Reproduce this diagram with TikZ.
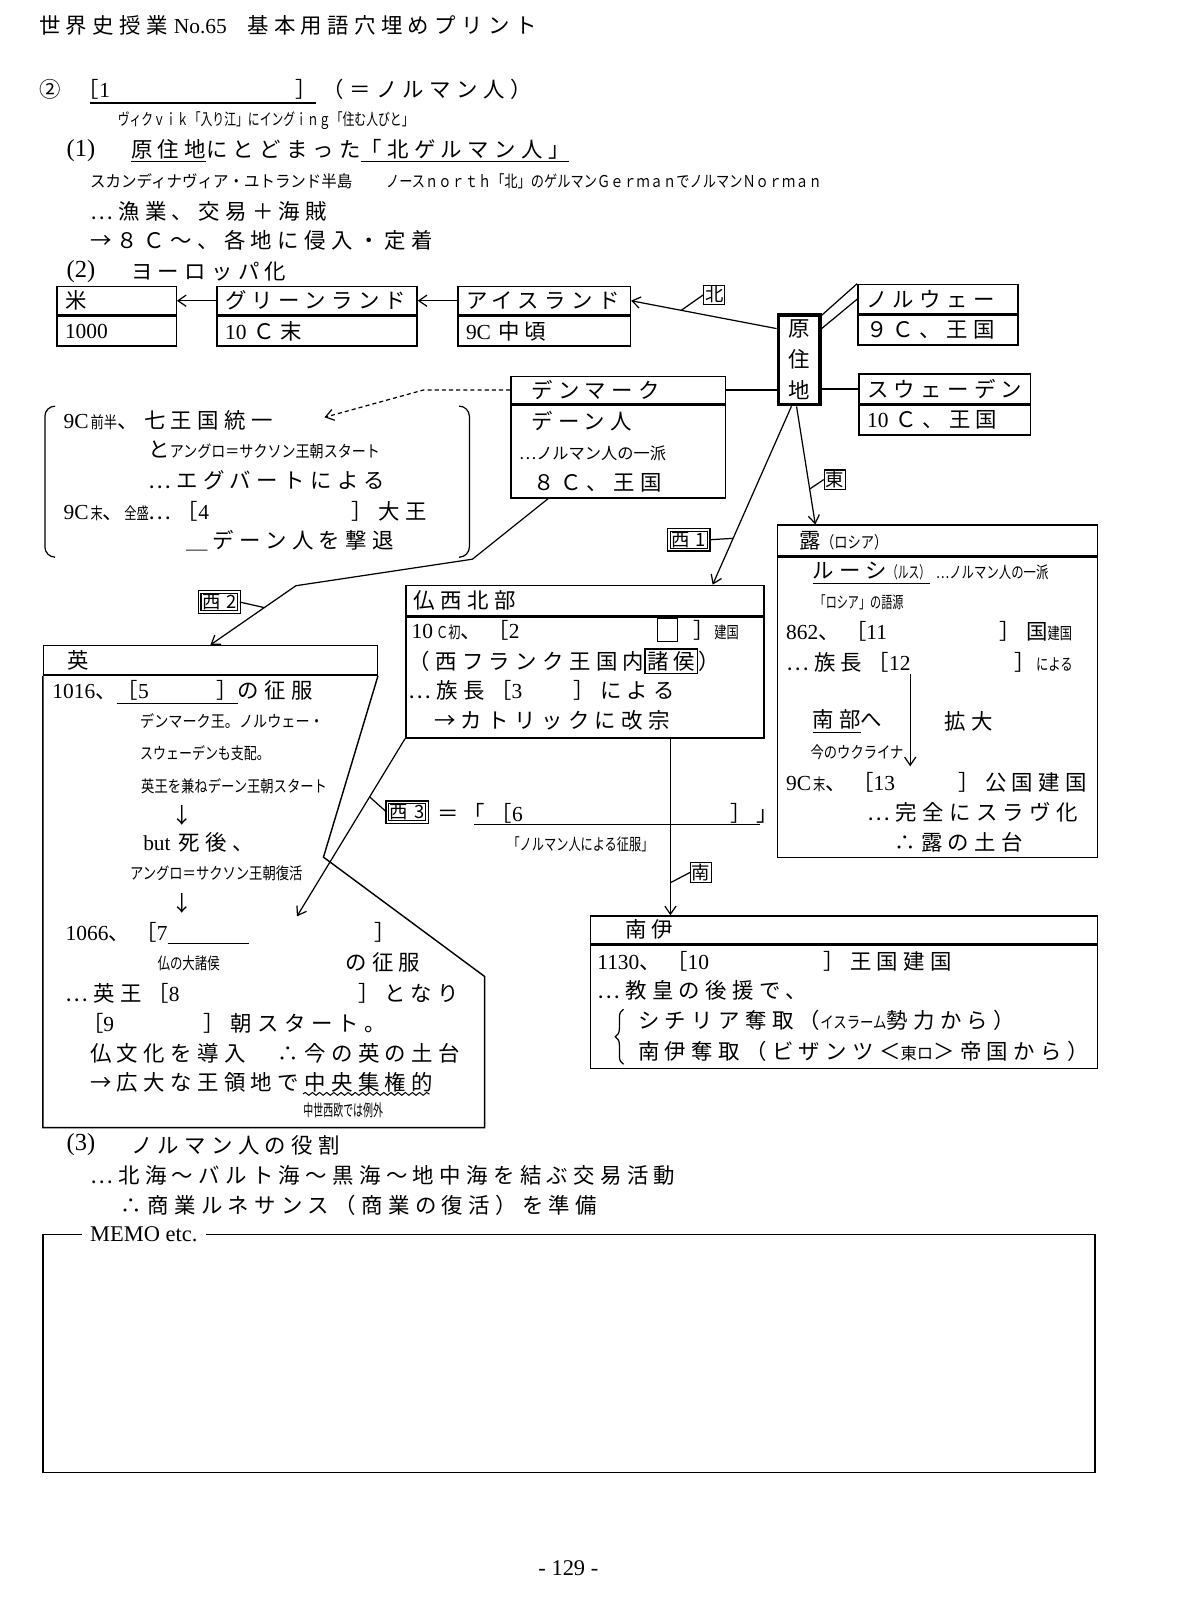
\documentclass[tikz,border=0pt]{standalone}
\usepackage{fontspec}
\usepackage{graphicx}
\usepackage{tikz}
\usetikzlibrary{arrows.meta,positioning,calc,decorations.pathreplacing,decorations.pathmorphing}

\setmainfont{Noto Sans CJK JP}[LetterSpace=25]
\newfontfamily\jpt{Noto Sans CJK JP}
\newfontfamily\rmn{Liberation Serif}
\setlength{\fboxsep}{0.8pt}
\setlength{\fboxrule}{0.6pt}

% small squeezed notes, fitted to a width
\newcommand\sqz[2]{{\jpt\fontsize{8}{9}\selectfont\resizebox{#1}{\height}{#2}}}

\begin{document}
\begin{tikzpicture}[
  x=0.5pt, y=-0.5pt,
  font=\fontsize{10.5}{14.8}\selectfont,
  ln/.style={anchor=west, inner sep=0pt},
  cell/.style={draw, line width=0.7pt, anchor=north west, inner xsep=4pt, inner ysep=0pt, align=left},
  lab/.style={draw, line width=0.6pt, inner sep=0.6pt, font=\jpt\fontsize{9}{10}\selectfont},
  dlab/.style={draw, double, double distance=0.8pt, line width=0.55pt, inner xsep=1.2pt, inner ysep=1pt, font=\jpt\fontsize{9}{10}\selectfont},
  arr/.style={-{Straight Barb[length=4pt,width=5.5pt]}, line width=0.6pt},
  conn/.style={line width=0.6pt}
]
\useasboundingbox (0,0) rectangle (1176,1568);

% heading
\node[ln] (title) at (38,25) {世界史授業\hspace{3pt}{\rmn No.65}\hspace{10pt}基本用語穴埋めプリント};
\node[ln] (circ) at (38,88) {②};
\node[ln] (blank1) at (76,88) {［{\rmn 1}\hspace*{91pt}］（＝ノルマン人）};
\draw[conn] (88,101) -- (310,101);
\node[ln] (etym) at (115,118) {\sqz{145pt}{ヴィクｖｉｋ「入り江」にイングｉｎｇ「住む人びと」}};
\node[ln] (s1) at (65,148) {{\rmn\fontsize{12}{12}\selectfont (1)}};
\node[ln] (s1t) at (128,148) {\underline{原住地}にとどまった\underline{「北ゲルマン人」}};
\node[ln] (scan) at (88,178) {\sqz{128.5pt}{スカンディナヴィア・ユトランド半島}};
\node[ln] (north) at (378,178) {\sqz{213.5pt}{ノースｎｏｒｔｈ「北」のゲルマンＧｅｒｍａｎでノルマンＮｏｒｍａｎ}};
\node[ln] (fish) at (88,207) {⋯漁業、交易＋海賊};
\node[ln] (inv) at (88,236) {→８Ｃ～、各地に侵入・定着};
\node[ln] (s2) at (65,266) {{\rmn\fontsize{12}{12}\selectfont (2)}};
\node[ln] (s2t) at (128,266) {ヨーロッパ化};

% (2) boxes
\node[cell, text width=50.5pt, minimum height=14pt] (us) at (55,280) {米};
\node[cell, text width=50.5pt, minimum height=14.5pt, below=0pt of us] (usb) {{\rmn 1000}};
\node[cell, text width=90pt, minimum height=14pt] (gl) at (212,280) {グリーンランド};
\node[cell, text width=90pt, minimum height=14.5pt, below=0pt of gl] (glb) {{\rmn 10} Ｃ末};
\node[cell, text width=76.5pt, minimum height=14pt] (is) at (448,280) {アイスランド};
\node[cell, text width=76.5pt, minimum height=14.5pt, below=0pt of is] (isb) {{\rmn 9C} 中頃};
\node[draw, line width=1.6pt, minimum width=20.5pt, minimum height=44pt, inner sep=0pt, align=center, anchor=north west, font=\jpt\fontsize{10.5}{15}\selectfont] (gen) at (761,307) {原\\住\\地};
\node[cell, text width=70.5pt, minimum height=14.5pt] (nw) at (840,278) {ノルウェー};
\node[cell, text width=70.5pt, minimum height=14.5pt, below=0pt of nw] (nwb) {９Ｃ、王国};
\node[cell, text width=76pt, minimum height=14.5pt] (sw) at (841,366) {スウェーデン};
\node[cell, text width=76pt, minimum height=14.5pt, below=0pt of sw] (swb) {{\rmn 10} Ｃ、王国};
\node[cell, text width=97pt, minimum height=13.5pt] (dm) at (500,368) {\hspace*{6pt}デンマーク};
\node[cell, text width=97pt, minimum height=45.5pt, below=0pt of dm, font=\fontsize{10.5}{15}\selectfont] (dmb) {\hspace*{6pt}デーン人\\\sqz{72pt}{⋯ノルマン人の一派}\\\hspace*{7pt}８Ｃ、王国};

% bracket box
\draw[conn, rounded corners=5pt] (53,398) -- (44,398) -- (44,546) -- (53,546);
\draw[conn, rounded corners=5pt] (451,398) -- (460,398) -- (460,546) -- (451,546);
\node[ln] (b1) at (62,412) {{\rmn 9C}\hspace{1pt}\sqz{13pt}{前半}、七王国統一};
\node[ln] (b2) at (145,441) {と\sqz{103pt}{アングロ＝サクソン王朝スタート}};
\node[ln] (b3) at (145,471) {⋯エグバートによる};
\node[ln] (b4) at (62,501) {{\rmn 9C}\hspace{1pt}\sqz{6pt}{末}、\sqz{12pt}{全盛}⋯［{\rmn 4}\hspace*{70pt}］大王};
\node[ln] (b5) at (182,530) {＿デーン人を撃退};

% england
\node[cell, text width=155.5pt, minimum height=14.5pt] (eng) at (42,632) {\hspace*{7.5pt}英};
\draw[line width=0.7pt] (eng.south west) -- (42,1105) -- (475,1105) -- (475,957) -- (317,840) -- (eng.south east);
\node[ln] (e1) at (51,679) {{\rmn 1016}、\underline{［{\rmn 5}\hspace*{33pt}］}の征服};
\node[ln] (e2) at (137,707) {\sqz{90pt}{デンマーク王。ノルウェー・}};
\node[ln] (e3) at (137,738) {\sqz{63.5pt}{スウェーデンも支配。}};
\node[ln] (e4) at (138,770) {\sqz{91pt}{英王を兼ねデーン王朝スタート}};
\node[ln] (e5) at (168,799) {↓};
\node[ln] (e6) at (140,826) {{\rmn but}\hspace{4pt}死後、};
\node[ln] (e7) at (127,856) {\sqz{84.5pt}{アングロ＝サクソン王朝復活}};
\node[ln] (e8) at (168,885) {↓};
\node[ln] (e9) at (64,915) {{\rmn 1066}、［{\rmn 7}\underline{\hspace*{40pt}}\hspace*{61.5pt}］};
\node[ln] (e10) at (154,944) {\sqz{30.5pt}{仏の大諸侯}};
\node[ln] (e11) at (338,943) {の征服};
\node[ln] (e12) at (64,973) {⋯英王［{\rmn 8}\hspace*{87.5pt}］となり};
\node[ln] (e13) at (80,1003) {［{\rmn 9}\hspace*{44pt}］朝スタート。};
\node[ln] (e14) at (88,1032) {仏文化を導入　∴今の英の土台};
\node[ln] (e15) at (88,1061) {→広大な王領地で中央集権的};
\draw[decorate, decoration={snake, amplitude=0.7pt, segment length=3.5pt}, line width=0.5pt] (297,1072) -- (421,1072);
\node[ln] (e16) at (297,1088) {\sqz{39pt}{中世西欧では例外}};

% france
\node[cell, text width=167.5pt, minimum height=15pt] (fr) at (397,573) {仏西北部};
\node[cell, text width=167.5pt, minimum height=59pt, below=0pt of fr] (frb) {};
\node[ln] (f1) at (403,618) {{\rmn 10}\hspace{1.5pt}\sqz{12pt}{Ｃ初}、［{\rmn 2}\hspace*{85pt}］\sqz{12pt}{建国}};
\draw[line width=0.6pt] (644,606) rectangle (664,629);
\node[ln] (f2) at (400,648) {（西フランク王国内\fbox{諸侯}）};
\node[ln] (f3) at (400,677) {⋯族長［{\rmn 3}\hspace*{25pt}］による};
\node[ln] (f4) at (425,706) {→カトリックに改宗};

% russia
\node[cell, text width=149pt, minimum height=15pt] (ru) at (761,514) {\hspace*{7pt}露\sqz{32.5pt}{（ロシア）}};
\node[cell, text width=149pt, minimum height=147pt, below=0pt of ru] (rub) {};
\node[ln] (r1) at (796,562) {\underline{ルーシ\sqz{21pt}{（ルス）}}\hspace{3pt}\sqz{55pt}{⋯ノルマン人の一派}};
\node[ln] (r2) at (798,590) {\sqz{43.5pt}{「ロシア」の語源}};
\node[ln] (r3) at (770,619) {{\rmn 862}、［{\rmn 11}\hspace*{55pt}］国\sqz{12pt}{建国}};
\node[ln] (r4) at (770,649) {⋯族長［{\rmn 12}\hspace*{51pt}］\sqz{18pt}{による}};
\coordinate (ex1) at (892,661);
\coordinate (ex2) at (892,751);
\draw[arr] (ex1) -- (ex2);
\node[ln] (r5) at (796,707) {\underline{南部}へ};
\node[ln] (r6) at (925,707) {拡大};
\node[ln] (r7) at (794,737) {\sqz{45.5pt}{今のウクライナ}};
\node[ln] (r8) at (770,767) {{\rmn 9C}\hspace{1pt}\sqz{6pt}{末}、［{\rmn 13}\hspace*{31pt}］公国建国};
\node[ln] (r9) at (850,796) {⋯完全にスラヴ化};
\node[ln] (r10) at (876,825) {∴露の土台};

% south italy
\node[cell, text width=240.5pt, minimum height=13.5pt] (si) at (578,897) {\hspace*{13pt}南伊};
\node[cell, text width=240.5pt, minimum height=60.5pt, below=0pt of si] (sib) {};
\node[ln] (t1) at (585,942) {{\rmn 1130}、［{\rmn 10}\hspace*{56pt}］王国建国};
\node[ln] (t2) at (585,971) {⋯教皇の後援で、};
\draw[decorate, decoration={brace, amplitude=4pt}, line width=0.6pt] (611,1043) -- (611,989);
\node[ln] (t3) at (625,1000) {シチリア奪取（\sqz{32.5pt}{イスラーム}勢力から）};
\node[ln] (t4) at (625,1030) {南伊奪取（ビザンツ＜\sqz{16pt}{東ロ}＞帝国から）};

% arrows
\draw[arr] (gl.west) -- (us.east);
\draw[arr] (is.west) -- (gl.east);
\coordinate (na) at ([yshift=-7.5pt]gen.north west);
\draw[arr] (na) -- (is.east);
\node[lab] (kita) at (700,289) {北};
\draw[conn] ($(na)!0.655!(is.east)$) -- (kita.west);
\draw[conn] ([yshift=-1pt]gen.north east) -- (nw.north west);
\draw[conn] ([yshift=-7.5pt]gen.north east) -- (nw.west);
\draw[conn] (gen.east |- sw.west) -- (sw.west);
\draw[conn] (gen.west |- dm.east) -- (dm.east);
\coordinate (dtip) at (318,409);
\draw[arr, dash pattern=on 2pt off 1.5pt] (dm.west) -- ++(-85,0) -- (dtip);

\coordinate (w2a) at ([xshift=18.5pt]dmb.south west);
\coordinate (w2b) at (463,548);
\coordinate (w2c) at (290,574);
\draw[arr] (w2a) -- (w2b) -- (w2c) -- (eng.north);
\node[dlab] (w2) at (215,590) {西\hspace{3pt}2};
\draw[conn] (w2.east) -- ($(w2c)!0.37!(eng.north)$);

\coordinate (w1a) at ([xshift=-3.75pt]gen.south);
\coordinate (w1b) at ([xshift=-25.5pt]fr.north east);
\draw[arr] (w1a) -- (w1b);
\node[dlab] (w1) at (675,529) {西\hspace{3pt}1};
\draw[conn] ($(w1a)!0.74!(w1b)$) -- (w1.east);

\coordinate (ea) at ([xshift=-1.25pt]gen.south);
\coordinate (eb) at ([xshift=19pt]ru.north west);
\draw[arr] (ea) -- (eb);
\node[lab] (higa) at (818,470) {東};
\draw[conn] ($(ea)!0.70!(eb)$) -- (higa.west);

\coordinate (w3tip) at (291,898);
\draw[arr] (frb.south west) -- (w3tip);
\node[dlab] (w3) at (399,796) {西\hspace{3pt}3};
\draw[conn] ($(frb.south west)!0.328!(w3tip)$) -- (w3.west);
\node[ln] (w3t) at (428,797) {＝「［{\rmn 6}\hspace*{101.5pt}］」};
\draw[conn] (465,808) -- (745,808);
\node[ln] (w3n) at (497,827) {\sqz{71.5pt}{「ノルマン人による征服」}};

\coordinate (sa) at ([xshift=130pt]frb.south west);
\draw[arr] (sa) -- (sa |- si.north);
\node[lab] (mina) at (687,855) {南};
\draw[conn] (sa |- mina.south) -- (mina.west);

% (3)
\node[ln] (s3) at (65,1122) {{\rmn\fontsize{12}{12}\selectfont (3)}};
\node[ln] (s3t) at (128,1122) {ノルマン人の役割};
\node[ln] (trade) at (88,1152) {⋯北海～バルト海～黒海～地中海を結ぶ交易活動};
\node[ln] (ren) at (118,1181) {∴商業ルネサンス（商業の復活）を準備};

% memo
\draw[line width=0.7pt] (42,1210) rectangle (1073,1443);
\node[ln, fill=white, inner xsep=4pt, font=\rmn\fontsize{11}{12}\selectfont] (memo) at (80,1210) {MEMO etc.};
\node[font=\rmn\fontsize{11}{12}\selectfont] (pg) at (557,1537) {- 129 -};
\end{tikzpicture}
\end{document}
